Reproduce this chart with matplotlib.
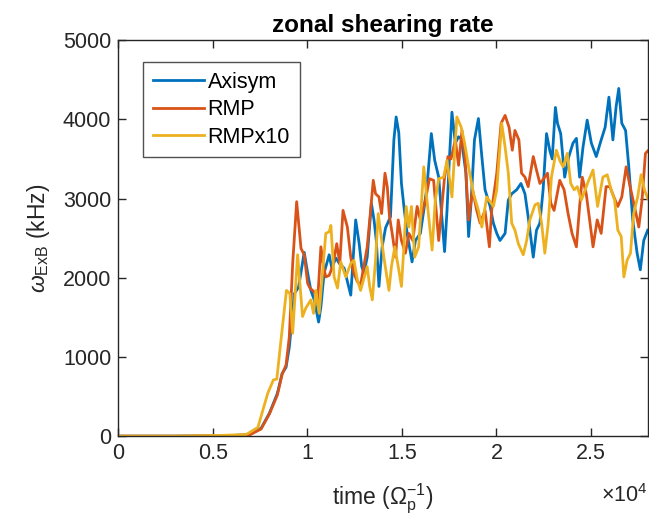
import numpy as np
import matplotlib
matplotlib.use('Agg')
import matplotlib.pyplot as plt

plt.rcParams['font.family'] = ['Liberation Sans', 'DejaVu Sans']
plt.rcParams['mathtext.fontset'] = 'custom'
plt.rcParams['mathtext.rm'] = 'Liberation Sans'
plt.rcParams['mathtext.it'] = 'Liberation Sans:italic'

# Axisym
axisym_t = [0, 3000, 5500, 6200, 6950, 7560, 8000, 8420, 8670, 8880, 9050, 9320, 9540, 9840,
            10020, 10190, 10370, 10600, 10720, 10890, 11160, 11300, 11510, 11700, 11950, 12300,
            12560, 12740, 12880, 13000, 13170, 13390, 13530, 13650, 13790, 13960, 14140, 14400,
            14580, 14700, 14840, 14980, 15110, 15280, 15540, 15720, 15980, 16160, 16330, 16560,
            16740, 16950, 17260, 17390, 17510, 17650, 17830, 18000, 18150, 18390, 18530, 18670,
            18840, 19050, 19230, 19400, 19670, 19840, 20020, 20190, 20460, 20630, 20810, 21070,
            21300, 21510, 21680, 21950, 22120, 22300, 22470, 22650, 22830, 22950, 23120, 23230,
            23400, 23610, 23830, 24050, 24230, 24400, 24580, 24800, 25020, 25280, 25540, 25750,
            25950, 26160, 26330, 26470, 26630, 26830, 27000, 27210, 27440, 27610, 27790, 28000]
axisym_v = [0, 0, 5, 10, 20, 100, 290, 540, 790, 870, 1120, 1800, 1880, 2320,
            2060, 1840, 1720, 1440, 1630, 2060, 2290, 2120, 2250, 2180, 2120, 1780,
            2730, 2440, 2140, 2060, 2260, 2940, 2730, 2470, 1890, 2390, 2630, 2770,
            3740, 4030, 3830, 3190, 2900, 2560, 2200, 2470, 2560, 2850, 3150, 3820,
            3480, 3270, 2330, 2850, 3480, 4090, 3700, 3780, 3750, 3320, 2520, 2980,
            3740, 4010, 3530, 3110, 2900, 2690, 2560, 2470, 2560, 2980, 3060, 3110,
            3190, 3060, 2770, 2260, 2600, 2690, 3110, 3820, 3600, 3500, 4150, 3950,
            3820, 3270, 3530, 3700, 3760, 3270, 3650, 3990, 3700, 3530, 3740, 3900,
            4280, 3740, 4160, 4390, 3950, 3860, 3400, 2730, 2310, 2100, 2470, 2600]

# RMP
rmp_t = [0, 3000, 5500, 6200, 6950, 7560, 8000, 8420, 8670, 8880, 9050, 9230, 9440, 9670,
         9840, 10020, 10140, 10370, 10540, 10720, 10850, 10980, 11160, 11350, 11560, 11720,
         11890, 12120, 12300, 12470, 12650, 12820, 13170, 13350, 13490, 13610, 13790, 13930,
         14110, 14230, 14350, 14490, 14670, 14810, 14980, 15190, 15370, 15580, 15810, 15980,
         16250, 16460, 16680, 16950, 17260, 17440, 17600, 17830, 18000, 18180, 18350, 18530,
         18740, 18960, 19140, 19400, 19630, 19750, 20020, 20250, 20460, 20670, 20840, 20980,
         21190, 21330, 21510, 21680, 21950, 22120, 22300, 22500, 22700, 22880, 23050, 23350,
         23580, 23790, 24000, 24230, 24400, 24540, 24750, 24930, 25110, 25330, 25540, 25800,
         26000, 26210, 26420, 26630, 26860, 27070, 27300, 27530, 27700, 27880, 28000]
rmp_v = [0, 0, 5, 10, 15, 90, 280, 520, 780, 900, 1250, 2180, 2960, 2370,
         2290, 1930, 1870, 1820, 1680, 2390, 2150, 2010, 2030, 2150, 2430, 2180,
         2850, 2640, 2260, 2050, 1950, 1910, 2390, 2850, 3230, 3060, 3020, 2810,
         3320, 3150, 2770, 2560, 2260, 2730, 2470, 2310, 2560, 2470, 2900, 2730,
         2980, 3250, 3230, 2470, 3270, 3530, 3500, 3740, 3420, 3860, 3480, 2730,
         3110, 2850, 2690, 2850, 2390, 2850, 3320, 3950, 4050, 3900, 3610, 3860,
         3740, 3320, 3270, 3150, 3530, 3360, 3190, 3250, 3320, 2940, 2850, 3230,
         3110, 2810, 2560, 2390, 2900, 3270, 3060, 2730, 2390, 2730, 2560, 3150,
         3150, 3020, 2900, 3020, 3400, 3150, 2900, 2640, 2980, 3570, 3600]

# RMPx10
rmp10_t = [0, 3000, 5500, 6200, 6770, 7390, 7910, 8210, 8390, 8610, 8900, 9080, 9230, 9490,
           9750, 9930, 10190, 10330, 10460, 10630, 10980, 11160, 11250, 11420, 11600, 11770,
           12040, 12300, 12470, 12650, 12820, 13170, 13300, 13440, 13610, 13750, 14050, 14320,
           14450, 14630, 14810, 14980, 15110, 15230, 15370, 15510, 15680, 15890, 16160, 16330,
           16600, 16770, 16950, 17210, 17390, 17650, 17910, 18140, 18320, 18530, 18790, 19050,
           19230, 19490, 19840, 20020, 20280, 20460, 20630, 20810, 20980, 21160, 21420, 21600,
           21770, 22040, 22210, 22390, 22560, 22740, 22910, 23170, 23350, 23530, 23750, 23930,
           24110, 24280, 24490, 24880, 25110, 25350, 25630, 25860, 26070, 26250, 26420, 26600,
           26740, 26910, 27090, 27260, 27470, 27650, 27830, 28000]
rmp10_v = [0, 0, 10, 15, 20, 110, 540, 710, 720, 1210, 1840, 1800, 1300, 2290,
           1510, 1620, 1720, 1550, 1840, 1550, 2560, 2580, 2660, 2010, 1870, 2200,
           2010, 2180, 2220, 1970, 1840, 2140, 1890, 1720, 2220, 2810, 2260, 1840,
           2140, 2390, 2140, 1890, 2390, 2900, 2640, 2900, 2260, 2390, 3400, 2980,
           2350, 2980, 3250, 3270, 3480, 3020, 4030, 3900, 3700, 3400, 3060, 2850,
           2640, 3020, 2900, 3110, 3950, 3650, 3320, 2690, 2600, 2430, 2290, 2470,
           2730, 2920, 2940, 2690, 2310, 2690, 3270, 3610, 3480, 3400, 3570, 3190,
           3110, 3150, 2980, 3230, 3360, 2900, 3270, 3300, 3110, 2980, 2600, 2520,
           2010, 2220, 2310, 2810, 3020, 3300, 3110, 3000]

xtick_vals = [0, 5000, 10000, 15000, 20000, 25000]
xtick_labels = ['0', '0.5', '1', '1.5', '2', '2.5']
ytick_vals = [0, 1000, 2000, 3000, 4000, 5000]

dark = '#262626'

fig = plt.figure(figsize=(6.49, 5.28), dpi=100)
ax = fig.add_axes([0.182, 0.174, 0.816, 0.750])

ax.plot(axisym_t, axisym_v, color='#0072BD', lw=2.0, label='Axisym')
ax.plot(rmp_t, rmp_v, color='#D95319', lw=2.0, label='RMP')
ax.plot(rmp10_t, rmp10_v, color='#EDB120', lw=2.0, label='RMPx10')

ax.set_xlim(0, 28000)
ax.set_ylim(0, 5000)
ax.set_xticks(xtick_vals)
ax.set_xticklabels(xtick_labels)
ax.set_yticks(ytick_vals)
ax.tick_params(direction='in', length=6, width=1.0, top=True, right=True,
               labelsize=15.5, colors=dark, pad=5)
for s in ax.spines.values():
    s.set_color(dark)
    s.set_linewidth(1.0)

ax.set_title('zonal shearing rate', fontsize=17.5, fontweight='bold', color='#000000', pad=6)
ax.set_xlabel(r'time ($\Omega_\mathrm{p}^{-1}$)', fontsize=16.5, color=dark, labelpad=13)
ax.set_ylabel(r'$\omega_\mathrm{ExB}$ (kHz)', fontsize=16.5, color=dark, labelpad=8)
ax.text(1.0, -0.15, r'$\times 10^4$', transform=ax.transAxes, ha='right', va='center',
        fontsize=15.5, color=dark)

leg = ax.legend(loc='upper left', bbox_to_anchor=(0.047, 0.945), borderaxespad=0,
                fancybox=False, fontsize=15.5, handlelength=2.4, handletextpad=0.15,
                borderpad=0.45, labelspacing=0.3)
leg.get_frame().set_edgecolor(dark)
leg.get_frame().set_linewidth(1.0)

plt.savefig('out.png', dpi=100)
